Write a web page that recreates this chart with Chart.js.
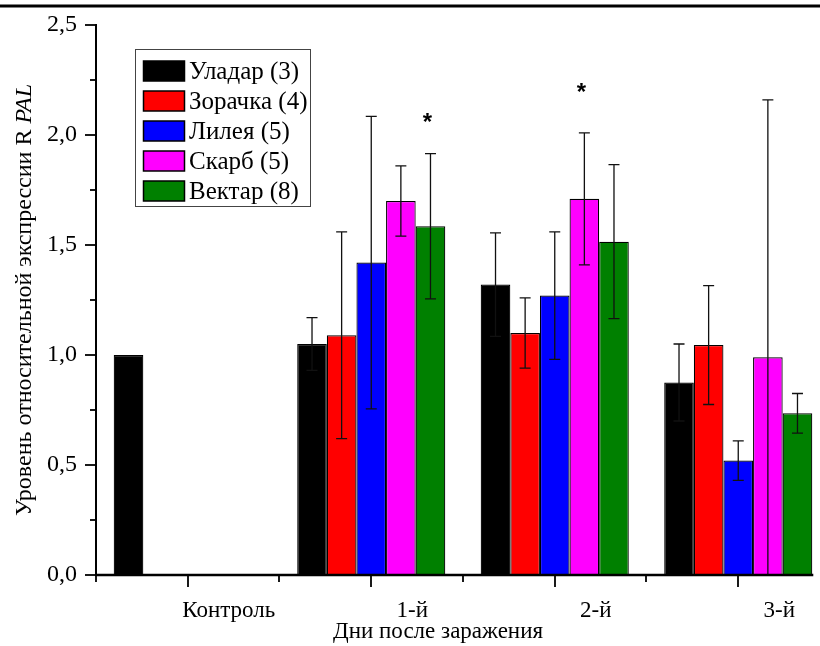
<!DOCTYPE html>
<html>
<head>
<meta charset="utf-8">
<script src="https://cdn.jsdelivr.net/npm/chart.js@4"></script>
<style>
  html, body { margin: 0; padding: 0; background: #fff; overflow: hidden; }
  #wrap { position: relative; width: 832px; height: 646px; }
</style>
</head>
<body>
<div id="wrap"><canvas id="c"></canvas></div>
<script>
// ---- data ----
const categories = ['Контроль', '1-й', '2-й', '3-й'];
const seriesNames = ['Уладар (3)', 'Зорачка (4)', 'Лилея (5)', 'Скарб (5)', 'Вектар (8)'];
const seriesColors = ['#000000', '#ff0000', '#0000ff', '#ff00ff', '#008000'];

const uladar   = [1.00, 1.05, 1.32, 0.875];
const zorachka = [null, 1.09, 1.10, 1.045];
const lileya   = [null, 1.42, 1.27, 0.52];
const skarb    = [null, 1.70, 1.71, 0.99];
const vektar   = [null, 1.585, 1.515, 0.735];

// error bar half-widths
const uladarErr   = [0, 0.12, 0.235, 0.175];
const zorachkaErr = [null, 0.47, 0.16, 0.27];
const lileyaErr   = [null, 0.665, 0.29, 0.09];
const skarbErr    = [null, 0.16, 0.30, 1.17];
const vektarErr   = [null, 0.33, 0.35, 0.09];

// significance stars: series index, category index, level
const starSeries   = [4, 3];
const starCategory = [1, 2];
const starLevel    = [2.077, 2.214];

const yTicks = [0, 0.5, 1.0, 1.5, 2.0, 2.5];
const yTitle = 'Уровень относительной экспрессии R ';
const yTitleItalic = 'PAL';
const xTitle = 'Дни после заражения';

const seriesValues = [uladar, zorachka, lileya, skarb, vektar];
const seriesErrors = [uladarErr, zorachkaErr, lileyaErr, skarbErr, vektarErr];

const SERIF = '"Liberation Serif", "Times New Roman", serif';

const overlay = {
  id: 'overlay',
  afterDatasetsDraw(chart) {
    const ctx = chart.ctx, y = chart.scales.y;
    ctx.save();
    ctx.strokeStyle = '#111';
    ctx.lineWidth = 1.3;
    chart.data.datasets.forEach((ds, di) => {
      const meta = chart.getDatasetMeta(di);
      ds.err.forEach((e, i) => {
        const v = ds.data[i];
        if (v == null || !e) return;
        const bx = meta.data[i].x;
        const hi = v + e, lo = v - e;
        const yt = y.getPixelForValue(hi);
        const yb = y.getPixelForValue(Math.max(0, lo));
        ctx.beginPath();
        ctx.moveTo(bx, yt); ctx.lineTo(bx, yb);
        ctx.moveTo(bx - 5.5, yt); ctx.lineTo(bx + 5.5, yt);
        if (lo > 0) { ctx.moveTo(bx - 5.5, yb); ctx.lineTo(bx + 5.5, yb); }
        ctx.stroke();
      });
    });
    // stars
    ctx.fillStyle = '#000';
    ctx.font = 'bold 24px "Liberation Sans", Arial, sans-serif';
    ctx.textAlign = 'center';
    ctx.textBaseline = 'middle';
    starSeries.forEach((s, k) => {
      const el = chart.getDatasetMeta(s).data[starCategory[k]];
      ctx.fillText('*', el.x - 3, y.getPixelForValue(starLevel[k]) + 5);
    });
    ctx.restore();
  },
  afterDraw(chart) {
    const ctx = chart.ctx, x = chart.scales.x, y = chart.scales.y, ca = chart.chartArea;
    // axis ends where the last bar group ends
    const lastMeta = chart.getDatasetMeta(chart.data.datasets.length - 1);
    const lastBar = lastMeta.data[categories.length - 1];
    const axisEnd = lastBar.x + lastBar.width / 2 + 1;
    ctx.save();
    ctx.strokeStyle = '#000';
    // top frame line
    ctx.lineWidth = 3;
    ctx.beginPath(); ctx.moveTo(0, 6); ctx.lineTo(chart.width, 6); ctx.stroke();
    // axes
    ctx.lineWidth = 2;
    ctx.beginPath(); ctx.moveTo(ca.left, y.getPixelForValue(2.5) - 1); ctx.lineTo(ca.left, ca.bottom + 1); ctx.stroke();
    ctx.lineWidth = 2.5;
    ctx.beginPath(); ctx.moveTo(ca.left - 1, ca.bottom); ctx.lineTo(axisEnd, ca.bottom); ctx.stroke();
    // y ticks
    ctx.lineWidth = 1.8;
    for (let v = 0; v <= 2.5001; v += 0.25) {
      const py = Math.round(y.getPixelForValue(v));
      const major = Math.abs(v * 2 - Math.round(v * 2)) < 1e-6;
      ctx.beginPath(); ctx.moveTo(ca.left, py); ctx.lineTo(ca.left - (major ? 11 : 6), py); ctx.stroke();
    }
    // x ticks
    categories.forEach((c, i) => {
      const px = Math.round(x.getPixelForValue(i));
      ctx.beginPath(); ctx.moveTo(px, ca.bottom); ctx.lineTo(px, ca.bottom + 12); ctx.stroke();
      const bx = Math.round(px - (x.getPixelForValue(1) - x.getPixelForValue(0)) / 2);
      ctx.beginPath(); ctx.moveTo(bx, ca.bottom); ctx.lineTo(bx, ca.bottom + 7); ctx.stroke();
    });
    // legend
    ctx.lineWidth = 1;
    ctx.strokeStyle = '#444';
    ctx.strokeRect(135.5, 49.5, 175, 157);
    ctx.font = '25px ' + SERIF;
    ctx.textAlign = 'left';
    ctx.textBaseline = 'middle';
    chart.data.datasets.forEach((ds, i) => {
      const top = 61 + i * 30;
      ctx.fillStyle = ds.backgroundColor;
      ctx.fillRect(143.5, top, 41, 20);
      ctx.strokeStyle = '#000';
      ctx.lineWidth = 1.5;
      ctx.strokeRect(143.5, top, 41, 20);
      ctx.fillStyle = '#000';
      ctx.fillText(ds.label, 189, top + 11);
    });
    // x title
    ctx.textAlign = 'center';
    ctx.textBaseline = 'alphabetic';
    ctx.font = '23px ' + SERIF;
    ctx.fillText(xTitle, 438, 638);
    // y title (rotated, with italic part)
    ctx.save();
    ctx.translate(31, 300);
    ctx.rotate(-Math.PI / 2);
    const f1 = '24px ' + SERIF, f2 = 'italic 24px ' + SERIF;
    ctx.font = f1; const w1 = ctx.measureText(yTitle).width;
    ctx.font = f2; const w2 = ctx.measureText(yTitleItalic).width;
    const start = -(w1 + w2) / 2;
    ctx.textAlign = 'left';
    ctx.font = f1; ctx.fillText(yTitle, start, 0);
    ctx.font = f2; ctx.fillText(yTitleItalic, start + w1, 0);
    ctx.restore();
    ctx.restore();
  }
};

new Chart(document.getElementById('c'), {
  type: 'bar',
  data: {
    labels: categories,
    datasets: seriesNames.map((name, i) => ({
      label: name,
      data: seriesValues[i],
      err: seriesErrors[i],
      backgroundColor: seriesColors[i],
      borderColor: '#000',
      borderWidth: 1.2,
      borderSkipped: 'start',
      barPercentage: 1.0,
      categoryPercentage: 0.807
    }))
  },
  options: {
    responsive: true,
    maintainAspectRatio: false,
    animation: false,
    devicePixelRatio: 1,
    layout: { padding: { top: 25, right: 2, left: 0, bottom: 0 } },
    plugins: { legend: { display: false }, tooltip: { enabled: false }, title: { display: false } },
    scales: {
      x: {
        grid: { display: false, drawTicks: false },
        border: { display: false },
        ticks: {
          color: '#000',
          font: { family: SERIF, size: 23 },
          padding: 22,
          labelOffset: 41,
          maxRotation: 0, autoSkip: false
        },
        afterFit: (s) => { s.height = 71; }
      },
      y: {
        min: 0, max: 2.5,
        grid: { display: false, drawTicks: false },
        border: { display: false },
        afterBuildTicks: (s) => { s.ticks = yTicks.map(v => ({ value: v })); },
        ticks: {
          color: '#000',
          font: { family: SERIF, size: 24, lineHeight: 0.2 },
          padding: 19,
          callback: (v) => Number(v).toFixed(1).replace('.', ',')
        },
        afterFit: (s) => { s.width = 96; }
      }
    }
  },
  plugins: [overlay]
});
</script>
</body>
</html>
